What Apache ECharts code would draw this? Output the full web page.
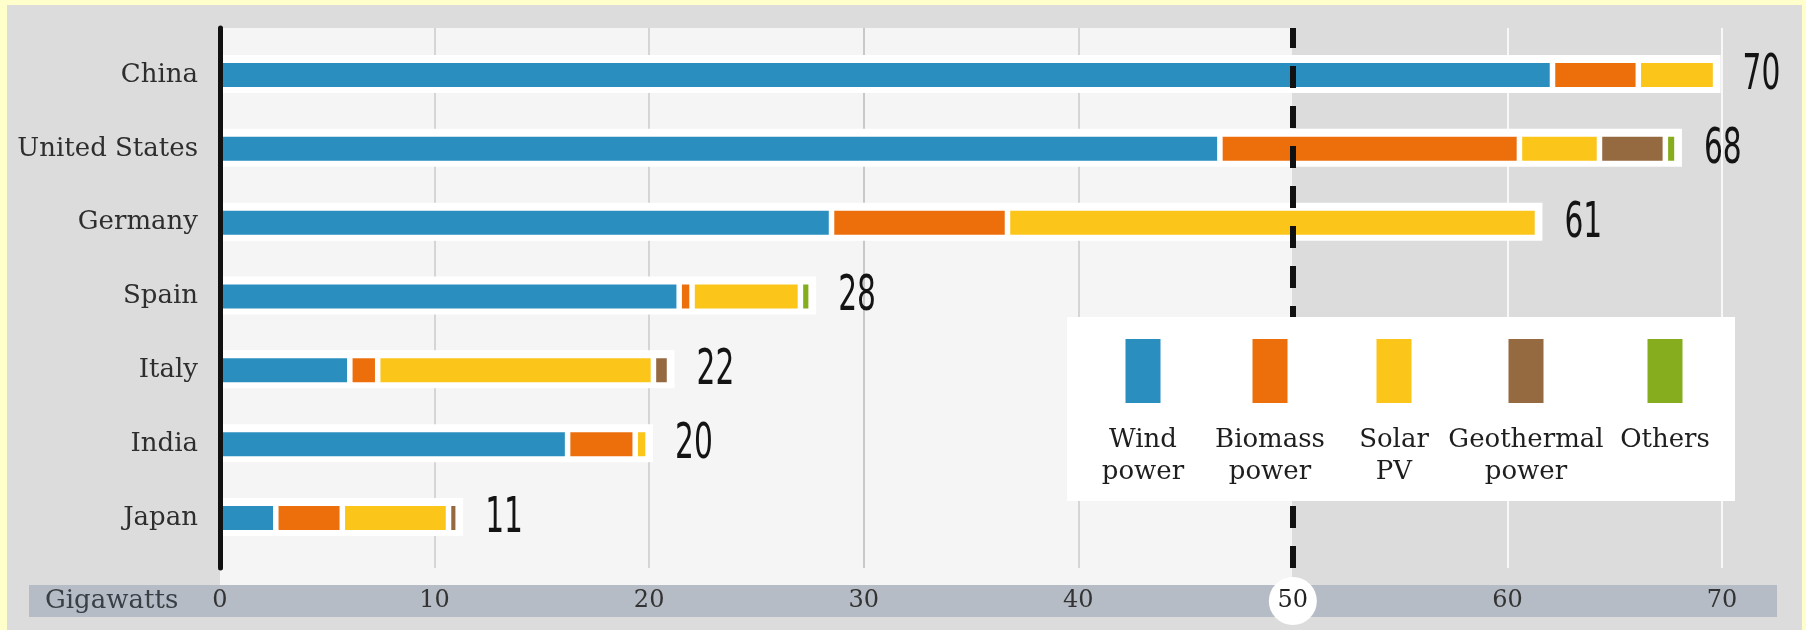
<!DOCTYPE html>
<html><head><meta charset="utf-8">
<script src="https://cdn.jsdelivr.net/npm/echarts@6/dist/echarts.min.js"></script>
<style>html,body{margin:0;padding:0;background:#ffffcc;} #c{width:1806px;height:630px;}</style>
</head><body><div id="c"></div>
<script>
// ---- data ----
const categories = ['China', 'United States', 'Germany', 'Spain', 'Italy', 'India', 'Japan'];
const windPower = [62.1, 46.6, 28.5, 21.4, 6.05, 16.2, 2.6];
const biomassPower = [4.0, 13.96, 8.2, 0.6, 1.3, 3.15, 3.1];
const solarPV = [3.6, 3.73, 24.7, 5.05, 12.85, 0.6, 4.95];
const geothermalPower = [0, 3.07, 0, 0, 0.75, 0, 0.45];
const otherSources = [0, 0.54, 0, 0.5, 0, 0, 0];
const totalLabels = [70, 68, 61, 28, 22, 20, 11];
const xTickValues = [0, 10, 20, 30, 40, 50, 60, 70];
const seriesNames = ['Wind power', 'Biomass power', 'Solar PV', 'Geothermal power', 'Others'];
const legendLabels = ['Wind\npower', 'Biomass\npower', 'Solar\nPV', 'Geothermal\npower', 'Others'];
const axisTitle = 'Gigawatts';
const thresholdValue = 50;

// ---- styles ----
const seriesValues = [windPower, biomassPower, solarPV, geothermalPower, otherSources];
const colors = ['#2a8fbf', '#ec6f0c', '#fbc519', '#966a40', '#86ad1e'];
const serif = '"DejaVu Serif", "Liberation Serif", serif';
const narrow = '"DejaVu Sans Condensed", "DejaVu Sans", sans-serif';
const sums = categories.map((c, i) => seriesValues.reduce((a, arr) => a + arr[i], 0));

const chart = echarts.init(document.getElementById('c'), null, {renderer: 'canvas'});

const barSeries = seriesNames.map((name, k) => ({
  type: 'bar', name: name, stack: 'total', xAxisIndex: 0, yAxisIndex: 0,
  barWidth: 29.5, z: 3, silent: true,
  data: seriesValues[k].map(v => v === 0 ? '-' : v),
  itemStyle: {color: colors[k], borderColor: '#ffffff', borderWidth: 2.75}
}));

const haloSeries = {
  type: 'custom', xAxisIndex: 0, yAxisIndex: 0, z: 2, silent: true, clip: false,
  data: categories.map((c, i) => [sums[i], i, totalLabels[i]]),
  encode: {x: 0, y: 1},
  renderItem: function (params, api) {
    const s = api.coord([0, api.value(1)]);
    const e = api.coord([api.value(0), api.value(1)]);
    const h = 38;
    return {
      type: 'group',
      children: [
        {type: 'rect', shape: {x: s[0], y: s[1] - h / 2 - 1, width: e[0] - s[0] + 5, height: h},
         style: {fill: '#ffffff'}},
        {type: 'text', x: e[0] + 27, y: s[1] + 1, scaleX: 0.66, scaleY: 1,
         style: {text: String(api.value(2)), fill: '#141414', fontSize: 50, fontFamily: narrow,
                 align: 'left', verticalAlign: 'middle', textAlign: 'left', textVerticalAlign: 'middle'}}
      ]
    };
  }
};

const thresholdSeries = {
  type: 'line', xAxisIndex: 1, yAxisIndex: 1, z: 6, silent: true, data: [],
  markLine: {
    silent: true, symbol: 'none', label: {show: false},
    lineStyle: {color: '#111111', width: 6, type: [22, 18]},
    data: [{xAxis: thresholdValue}]
  }
};

const splitColors = xTickValues.map(v => v === 0 || v === thresholdValue ? 'rgba(0,0,0,0)' : (v < thresholdValue ? (v === 30 ? '#bdbdbd' : '#cdcdcd') : '#ffffff'));

const legendX = [1143, 1270, 1394, 1526, 1665];
const legendEls = [
  {type: 'rect', z: 20, shape: {x: 1067, y: 317, width: 668, height: 184}, style: {fill: '#ffffff'}}
];
seriesNames.forEach((n, k) => {
  legendEls.push({type: 'rect', z: 21, shape: {x: legendX[k] - 17.5, y: 339, width: 35, height: 64}, style: {fill: colors[k]}});
  legendEls.push({type: 'text', z: 21, x: legendX[k], y: 424,
    style: {text: legendLabels[k], fill: '#1e1e1e', fontSize: 26, fontFamily: serif, lineHeight: 32,
            align: 'center', verticalAlign: 'top', textAlign: 'center', textVerticalAlign: 'top'}});
});

const option = {
  animation: false,
  backgroundColor: 'rgba(0,0,0,0)',
  graphic: {
    elements: [
      {type: 'rect', z: -30, silent: true, shape: {x: 7, y: 5, width: 1795, height: 625}, style: {fill: '#dcdcdc'}},
      {type: 'rect', z: -29, silent: true, shape: {x: 220, y: 28, width: 1072, height: 557}, style: {fill: '#f5f5f5'}},
      {type: 'rect', z: -28, silent: true, shape: {x: 29, y: 585, width: 1748, height: 32}, style: {fill: '#b5bcc5'}},
      {type: 'text', z: -27, silent: true, x: 45, y: 601,
       style: {text: axisTitle, fill: '#3a3e45', fontSize: 26, fontFamily: serif,
               align: 'left', verticalAlign: 'middle', textAlign: 'left', textVerticalAlign: 'middle'}}
    ].concat(legendEls)
  },
  grid: [
    {left: 220, right: 84, top: 38, height: 517},
    {left: 220, right: 84, top: 28, height: 540}
  ],
  xAxis: [
    {type: 'value', gridIndex: 0, min: 0, max: 70, interval: 10,
     axisLine: {show: false}, axisTick: {show: false}, splitLine: {show: false},
     axisLabel: {margin: 46, verticalAlign: 'middle', fontSize: 24, fontFamily: serif, color: '#333333',
       formatter: v => v === thresholdValue ? '{c|' + v + '}' : String(v),
       rich: {c: {backgroundColor: '#ffffff', borderRadius: 24, width: 48, height: 48, lineHeight: 48,
                  align: 'center', fontSize: 24, fontFamily: serif, color: '#222222'}}}},
    {type: 'value', gridIndex: 1, min: 0, max: 70, interval: 10,
     axisLine: {show: false}, axisTick: {show: false}, axisLabel: {show: false},
     splitLine: {show: true, lineStyle: {color: splitColors, width: 1.6}}}
  ],
  yAxis: [
    {type: 'category', gridIndex: 0, data: categories, inverse: true,
     axisLine: {show: false}, axisTick: {show: false}, splitLine: {show: false},
     axisLabel: {margin: 22, fontSize: 26, fontFamily: serif, color: '#2e2e2e'}},
    {type: 'value', gridIndex: 1, min: 0, max: 1, z: 10,
     axisLine: {show: true, onZero: false, lineStyle: {color: '#111111', width: 5}},
     axisTick: {show: false}, axisLabel: {show: false}, splitLine: {show: false}}
  ],
  series: [haloSeries].concat(barSeries).concat([thresholdSeries])
};
chart.setOption(option);
</script>
</body></html>
